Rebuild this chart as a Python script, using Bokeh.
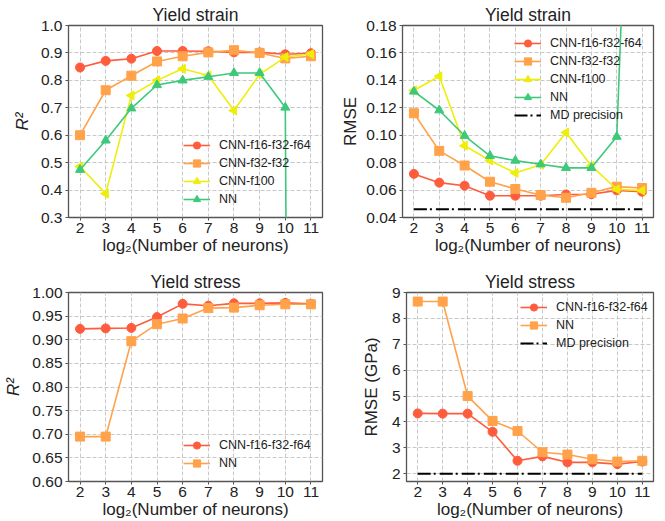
from bokeh.plotting import figure
from bokeh.layouts import column, row
from bokeh.models import Range1d, FixedTicker, Legend, PrintfTickFormatter
from bokeh.embed import file_html
from bokeh.resources import INLINE
import math

x_vals = [2, 3, 4, 5, 6, 7, 8, 9, 10, 11]

# Panel 1: yield strain R^2
r2_strain_cnn_f16 = [0.847, 0.871, 0.879, 0.907, 0.907, 0.906, 0.902, 0.902, 0.895, 0.899]
r2_strain_cnn_f32 = [0.600, 0.764, 0.817, 0.869, 0.888, 0.902, 0.910, 0.900, 0.880, 0.888]
r2_strain_cnn_f100 = [0.486, 0.387, 0.745, 0.800, 0.842, 0.818, 0.690, 0.822, 0.885, 0.896]
r2_strain_nn = [0.474, 0.581, 0.698, 0.783, 0.800, 0.813, 0.827, 0.827, 0.701, -15.0]

# Panel 2: yield strain RMSE
rmse_strain_cnn_f16 = [0.0718, 0.0654, 0.0632, 0.0559, 0.0559, 0.0559, 0.0568, 0.0570, 0.0598, 0.0588]
rmse_strain_cnn_f32 = [0.116, 0.0886, 0.0779, 0.0661, 0.0608, 0.0564, 0.0544, 0.0580, 0.0625, 0.0615]
rmse_strain_cnn_f100 = [0.1326, 0.143, 0.0923, 0.0816, 0.0725, 0.0784, 0.102, 0.0776, 0.0606, 0.0596]
rmse_strain_nn = [0.1319, 0.1182, 0.0996, 0.085, 0.0815, 0.0788, 0.0762, 0.0762, 0.0989, 0.58]
md_strain = 0.046

# Panel 3: yield stress R^2
r2_stress_cnn_f16 = [0.923, 0.924, 0.925, 0.948, 0.976, 0.972, 0.977, 0.977, 0.978, 0.976]
r2_stress_nn = [0.695, 0.695, 0.897, 0.933, 0.945, 0.967, 0.968, 0.973, 0.975, 0.975]

# Panel 4: yield stress RMSE (GPa)
rmse_stress_cnn_f16 = [4.33, 4.32, 4.32, 3.62, 2.50, 2.67, 2.44, 2.44, 2.37, 2.47]
rmse_stress_nn = [8.65, 8.65, 5.00, 4.04, 3.65, 2.83, 2.74, 2.56, 2.47, 2.50]
md_stress = 2.0

RED = "#ff5b3d"
ORANGE = "#ffa24a"
YELLOW = "#eeee0a"
GREEN = "#3dc97a"
FONT = "Liberation Sans"
XLABEL = "log\u2082(Number of neurons)"


def make_fig(title, w, h, yr, yticks, ylabel, bl, br, bt, bb, ystand, fmt, italic=False):
    p = figure(width=w, height=h, output_backend="svg", toolbar_location=None,
               x_range=Range1d(1.55, 11.45), y_range=Range1d(*yr),
               min_border_left=bl, min_border_right=br, min_border_top=bt, min_border_bottom=bb)
    p.title.text = title
    p.title.align = "center"
    p.title.text_font = FONT
    p.title.text_font_size = "17.5px"
    p.title.text_font_style = "normal"
    p.title.text_color = "#222222"
    p.title.offset = 0
    p.title.standoff = 1
    p.outline_line_color = "#555555"
    p.outline_line_width = 1.3
    p.background_fill_color = "white"
    p.border_fill_color = "white"
    for ax in (p.xaxis[0], p.yaxis[0]):
        ax.axis_line_color = None
        ax.major_tick_line_color = "#555555"
        ax.major_tick_out = 3
        ax.major_tick_in = 0
        ax.minor_tick_line_color = None
        ax.major_label_text_font = FONT
        ax.major_label_text_font_size = "15.5px"
        ax.major_label_text_color = "#222222"
        ax.axis_label_text_font = FONT
        ax.axis_label_text_font_size = "17px"
        ax.axis_label_text_font_style = "normal"
        ax.axis_label_text_color = "#222222"
    p.xaxis.ticker = FixedTicker(ticks=x_vals)
    p.yaxis.ticker = FixedTicker(ticks=yticks)
    p.yaxis.formatter = PrintfTickFormatter(format=fmt)
    p.xaxis.axis_label = XLABEL
    p.xaxis.major_label_standoff = 2
    p.xaxis.axis_label_standoff = 0
    p.yaxis.axis_label = ylabel
    p.yaxis.major_label_standoff = 3
    p.yaxis.axis_label_standoff = ystand
    if italic:
        p.yaxis.axis_label_text_font_style = "italic"
    p.grid.grid_line_color = "#c8c8c8"
    p.grid.grid_line_dash = "4 2"
    p.grid.grid_line_width = 1
    p.xgrid.ticker = FixedTicker(ticks=x_vals)
    p.ygrid.ticker = FixedTicker(ticks=yticks)
    return p


def add_series(p, ys, color, marker, label, size, angle=0.0):
    r1 = p.line(x_vals, ys, line_color=color, line_width=1.6)
    r2 = p.scatter(x_vals, ys, marker=marker, size=size, fill_color=color,
                   line_color=color, angle=angle)
    return (label, [r1, r2])


def add_md(p, yv):
    r = p.line([x_vals[0], x_vals[-1]], [yv, yv], line_color="black", line_width=2,
               line_dash="13 3 2 4")
    return ("MD precision", [r])


def add_legend(p, items, loc):
    lg = Legend(items=items, location=loc)
    lg.background_fill_alpha = 0
    lg.border_line_alpha = 0
    lg.padding = 0
    lg.margin = 0
    lg.spacing = 0
    lg.glyph_width = 27
    lg.glyph_height = 18
    lg.label_height = 18
    lg.label_standoff = 9
    lg.label_text_font = FONT
    lg.label_text_font_size = "12.5px"
    lg.label_text_color = "#222222"
    lg.label_text_baseline = "middle"
    p.add_layout(lg, "center")


H1 = 266
H2 = 255

yt1 = [0.3, 0.4, 0.5, 0.6, 0.7, 0.8, 0.9, 1.0]
p1 = make_fig("Yield strain", 338, H1, (0.3, 1.0), yt1, "R\u00b2", 68, 16, 25, 49, 6, "%.1f", italic=True)
items1 = [
    add_series(p1, r2_strain_cnn_f16, RED, "circle", "CNN-f16-f32-f64", 9),
    add_series(p1, r2_strain_cnn_f32, ORANGE, "square", "CNN-f32-f32", 9),
    add_series(p1, r2_strain_cnn_f100, YELLOW, "triangle", "CNN-f100", 9, angle=math.pi / 2),
    add_series(p1, r2_strain_nn, GREEN, "triangle", "NN", 9),
]
add_legend(p1, items1, (115, 9))

yt2 = [0.04, 0.06, 0.08, 0.10, 0.12, 0.14, 0.16, 0.18]
p2 = make_fig("Yield strain", 327, H1, (0.04, 0.18), yt2, "RMSE", 61, 12, 25, 49, 3, "%.2f")
items2 = [
    add_series(p2, rmse_strain_cnn_f16, RED, "circle", "CNN-f16-f32-f64", 9),
    add_series(p2, rmse_strain_cnn_f32, ORANGE, "square", "CNN-f32-f32", 9),
    add_series(p2, rmse_strain_cnn_f100, YELLOW, "triangle", "CNN-f100", 9, angle=math.pi / 2),
    add_series(p2, rmse_strain_nn, GREEN, "triangle", "NN", 9),
    add_md(p2, md_strain),
]
add_legend(p2, items2, (112, 93))

yt3 = [0.60, 0.65, 0.70, 0.75, 0.80, 0.85, 0.90, 0.95, 1.00]
p3 = make_fig("Yield stress", 338, H2, (0.60, 1.00), yt3, "R\u00b2", 68, 16, 26, 39, 6, "%.2f", italic=True)
items3 = [
    add_series(p3, r2_stress_cnn_f16, RED, "circle", "CNN-f16-f32-f64", 9),
    add_series(p3, r2_stress_nn, ORANGE, "square", "NN", 9),
]
add_legend(p3, items3, (115, 9))

yt4 = [2, 3, 4, 5, 6, 7, 8, 9]
p4 = make_fig("Yield stress", 327, H2, (1.7, 9.0), yt4, "RMSE (GPa)", 68, 12, 26, 39, 8, "%d")
items4 = [
    add_series(p4, rmse_stress_cnn_f16, RED, "circle", "CNN-f16-f32-f64", 9),
    add_series(p4, rmse_stress_nn, ORANGE, "square", "NN", 9),
    add_md(p4, md_stress),
]
add_legend(p4, items4, (114, 129))

layout = column(row(p1, p2), row(p3, p4))
open("out.html", "w").write(file_html(layout, INLINE))
